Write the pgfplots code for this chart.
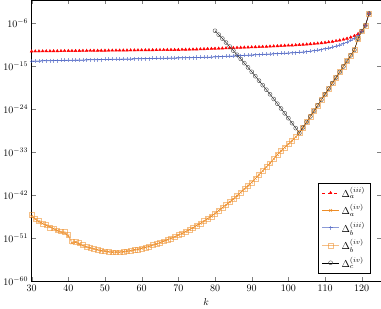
\documentclass[border=0pt]{standalone}
\usepackage{pgfplots}
\pgfplotsset{compat=1.18}
\usepackage{pgfplotstable}
\definecolor{myorange}{rgb}{0.93,0.55,0.15}
\definecolor{myblue}{rgb}{0.25,0.35,0.75}

\pgfplotstableread{
k y
30 1.259e-12
31 1.282e-12
32 1.306e-12
33 1.330e-12
34 1.355e-12
35 1.380e-12
36 1.406e-12
37 1.432e-12
38 1.459e-12
39 1.486e-12
40 1.514e-12
41 1.542e-12
42 1.570e-12
43 1.600e-12
44 1.629e-12
45 1.660e-12
46 1.690e-12
47 1.722e-12
48 1.754e-12
49 1.786e-12
50 1.820e-12
51 1.854e-12
52 1.888e-12
53 1.923e-12
54 1.959e-12
55 1.995e-12
56 2.032e-12
57 2.070e-12
58 2.109e-12
59 2.148e-12
60 2.188e-12
61 2.228e-12
62 2.270e-12
63 2.312e-12
64 2.355e-12
65 2.399e-12
66 2.443e-12
67 2.489e-12
68 2.535e-12
69 2.582e-12
70 2.630e-12
71 2.75e-12
72 2.88e-12
73 3.02e-12
74 3.16e-12
75 3.31e-12
76 3.47e-12
77 3.72e-12
78 3.98e-12
79 4.27e-12
80 4.57e-12
81 4.90e-12
82 5.25e-12
83 5.62e-12
84 6.03e-12
85 6.46e-12
86 6.92e-12
87 7.41e-12
88 7.94e-12
89 8.51e-12
90 9.12e-12
91 9.77e-12
92 1.05e-11
93 1.12e-11
94 1.20e-11
95 1.32e-11
96 1.45e-11
97 1.58e-11
98 1.74e-11
99 1.91e-11
100 2.09e-11
101 2.29e-11
102 2.51e-11
103 2.82e-11
104 3.16e-11
105 3.63e-11
106 4.17e-11
107 4.79e-11
108 5.62e-11
109 6.76e-11
110 8.32e-11
111 1.05e-10
112 1.35e-10
113 1.82e-10
114 2.51e-10
115 3.72e-10
116 5.89e-10
117 1.05e-9
118 2.14e-9
119 5.62e-9
120 2.00e-8
121 3.55e-7
122 1.00e-4
}\DaIII

\pgfplotstableread{
k y
30 3.98e-47
31 1.00e-47
32 3.16e-48
33 1.26e-48
34 5.01e-49
35 2.51e-49
36 1.00e-49
37 3.98e-50
38 2.00e-50
39 1.26e-50
40 3.16e-51
41 1.00e-52
42 1.58e-52
43 6.31e-53
44 3.16e-53
45 1.58e-53
46 1.00e-53
47 6.31e-54
48 3.98e-54
49 2.51e-54
50 2.00e-54
51 1.58e-54
52 1.26e-54
53 1.26e-54
54 1.26e-54
55 1.58e-54
56 2.00e-54
57 2.51e-54
58 3.98e-54
59 5.01e-54
60 7.94e-54
61 1.26e-53
62 2.00e-53
63 3.98e-53
64 6.31e-53
65 1.26e-52
66 2.51e-52
67 5.01e-52
68 1.00e-51
69 2.00e-51
70 5.01e-51
71 1.00e-50
72 2.51e-50
73 6.31e-50
74 1.58e-49
75 5.01e-49
76 1.26e-48
77 3.98e-48
78 1.26e-47
79 3.98e-47
80 1.58e-46
81 6.31e-46
82 2.51e-45
83 1.00e-44
84 3.98e-44
85 1.58e-43
86 7.94e-43
87 3.98e-42
88 2.00e-41
89 1.00e-40
90 5.01e-40
91 3.16e-39
92 2.00e-38
93 1.26e-37
94 7.94e-37
95 5.01e-36
96 3.98e-35
97 3.16e-34
98 2.00e-33
99 1.00e-32
100 5.01e-32
101 2.51e-31
102 1.58e-30
103 1.00e-29
104 1.45e-28
105 2.09e-27
106 3.02e-26
107 4.37e-25
108 6.31e-24
109 9.12e-23
110 1.32e-21
111 1.91e-20
112 2.75e-19
113 3.98e-18
114 5.75e-17
115 8.32e-16
116 1.20e-14
117 1.74e-13
118 2.51e-12
119 5.01e-10
120 2.00e-8
121 3.16e-7
122 1.00e-4
}\DaIV

\pgfplotstableread{
k y
30 1.122e-14
31 1.166e-14
32 1.212e-14
33 1.259e-14
34 1.308e-14
35 1.359e-14
36 1.413e-14
37 1.468e-14
38 1.525e-14
39 1.585e-14
40 1.647e-14
41 1.711e-14
42 1.778e-14
43 1.848e-14
44 1.920e-14
45 1.995e-14
46 2.073e-14
47 2.154e-14
48 2.239e-14
49 2.326e-14
50 2.417e-14
51 2.512e-14
52 2.610e-14
53 2.712e-14
54 2.818e-14
55 2.929e-14
56 3.043e-14
57 3.162e-14
58 3.286e-14
59 3.415e-14
60 3.548e-14
61 3.687e-14
62 3.831e-14
63 3.981e-14
64 4.137e-14
65 4.299e-14
66 4.467e-14
67 4.642e-14
68 4.823e-14
69 5.012e-14
70 5.208e-14
71 5.412e-14
72 5.623e-14
73 5.843e-14
74 6.072e-14
75 6.310e-14
76 6.556e-14
77 6.813e-14
78 7.079e-14
79 7.76e-14
80 8.51e-14
81 9.33e-14
82 1.02e-13
83 1.12e-13
84 1.23e-13
85 1.35e-13
86 1.48e-13
87 1.62e-13
88 1.78e-13
89 1.95e-13
90 2.14e-13
91 2.34e-13
92 2.57e-13
93 2.82e-13
94 3.09e-13
95 3.39e-13
96 3.72e-13
97 4.07e-13
98 4.47e-13
99 4.90e-13
100 5.37e-13
101 5.89e-13
102 6.61e-13
103 7.59e-13
104 8.91e-13
105 1.07e-12
106 1.32e-12
107 1.66e-12
108 2.19e-12
109 2.95e-12
110 4.17e-12
111 6.17e-12
112 9.55e-12
113 1.55e-11
114 2.69e-11
115 5.01e-11
116 1.02e-10
117 2.34e-10
118 6.31e-10
119 2.51e-9
120 1.78e-8
121 3.16e-7
122 1.00e-4
}\DbIII

\pgfplotstableread{
k y
30 7.94e-47
31 1.26e-47
32 5.01e-48
33 1.00e-48
34 7.94e-49
35 2.00e-49
36 1.26e-49
37 5.01e-50
38 3.16e-50
39 2.51e-50
40 6.31e-51
41 2.51e-52
42 2.00e-52
43 1.00e-52
44 3.98e-53
45 1.58e-53
46 1.00e-53
47 6.31e-54
48 3.98e-54
49 2.51e-54
50 2.00e-54
51 1.58e-54
52 1.26e-54
53 1.26e-54
54 1.26e-54
55 1.58e-54
56 2.00e-54
57 2.51e-54
58 3.98e-54
59 5.01e-54
60 7.94e-54
61 1.26e-53
62 2.00e-53
63 3.98e-53
64 6.31e-53
65 1.26e-52
66 2.51e-52
67 5.01e-52
68 1.00e-51
69 2.00e-51
70 5.01e-51
71 1.00e-50
72 2.51e-50
73 6.31e-50
74 1.58e-49
75 5.01e-49
76 1.26e-48
77 3.98e-48
78 1.26e-47
79 3.98e-47
80 1.58e-46
81 6.31e-46
82 2.51e-45
83 1.00e-44
84 3.98e-44
85 1.58e-43
86 7.94e-43
87 3.98e-42
88 2.00e-41
89 1.00e-40
90 5.01e-40
91 3.16e-39
92 2.00e-38
93 1.26e-37
94 7.94e-37
95 5.01e-36
96 3.98e-35
97 3.16e-34
98 2.00e-33
99 1.00e-32
100 5.01e-32
101 2.51e-31
102 1.58e-30
103 1.00e-29
104 1.45e-28
105 2.09e-27
106 3.02e-26
107 4.37e-25
108 6.31e-24
109 9.12e-23
110 1.32e-21
111 1.91e-20
112 2.75e-19
113 3.98e-18
114 5.75e-17
115 8.32e-16
116 1.20e-14
117 1.74e-13
118 2.51e-12
119 5.01e-10
120 2.00e-8
121 3.16e-7
122 1.00e-4
}\DbIV

\pgfplotstableread{
k y
80 2.45e-8
81 3.80e-9
82 5.75e-10
83 8.51e-11
84 1.23e-11
85 1.74e-12
86 2.40e-13
87 3.24e-14
88 4.17e-15
89 5.25e-16
90 6.46e-17
91 7.76e-18
92 9.12e-19
93 1.05e-19
94 1.17e-20
95 1.29e-21
96 1.35e-22
97 1.38e-23
98 1.38e-24
99 1.35e-25
100 1.29e-26
101 1.20e-27
102 1.10e-28
103 1.00e-29
104 1.45e-28
105 2.09e-27
106 3.02e-26
107 4.37e-25
108 6.31e-24
109 9.12e-23
110 1.32e-21
111 1.91e-20
112 2.75e-19
113 3.98e-18
114 5.75e-17
115 8.32e-16
116 1.20e-14
117 1.74e-13
118 2.51e-12
119 5.01e-10
120 2.00e-8
121 3.16e-7
122 1.00e-4
}\DcIV

\begin{document}
\begin{tikzpicture}
\begin{axis}[
  scale only axis,
  width=349pt, height=281pt,
  ymode=log,
  xmin=30, xmax=125.2,
  ymin=1e-60, ymax=6e-2,
  xtick={30,40,50,60,70,80,90,100,110,120},
  ytick={1e-60,1e-51,1e-42,1e-33,1e-24,1e-15,1e-6},
  yminorticks=false,
  xlabel={$k$},
  legend pos=south east,
  legend cell align=left,
  legend style={row sep=1.5pt},
]
\addplot[red, dashed, mark=triangle*, mark size=1.6pt, mark options={solid}] table {\DaIII};
\addlegendentry{$\Delta_a^{(iii)}$}
\addplot[myorange, mark=x, mark size=1.8pt] table {\DaIV};
\addlegendentry{$\Delta_a^{(iv)}$}
\addplot[myblue, opacity=0.6, line width=0.8pt, mark=+, mark size=2pt] table {\DbIII};
\addlegendentry{$\Delta_b^{(iii)}$}
\addplot[myorange, opacity=0.55, mark=square, mark size=2.4pt] table {\DbIV};
\addlegendentry{$\Delta_b^{(iv)}$}
\addplot[black, mark=o, mark size=2pt, mark options={black!70}] table {\DcIV};
\addlegendentry{$\Delta_c^{(iv)}$}
\end{axis}
\end{tikzpicture}
\end{document}
